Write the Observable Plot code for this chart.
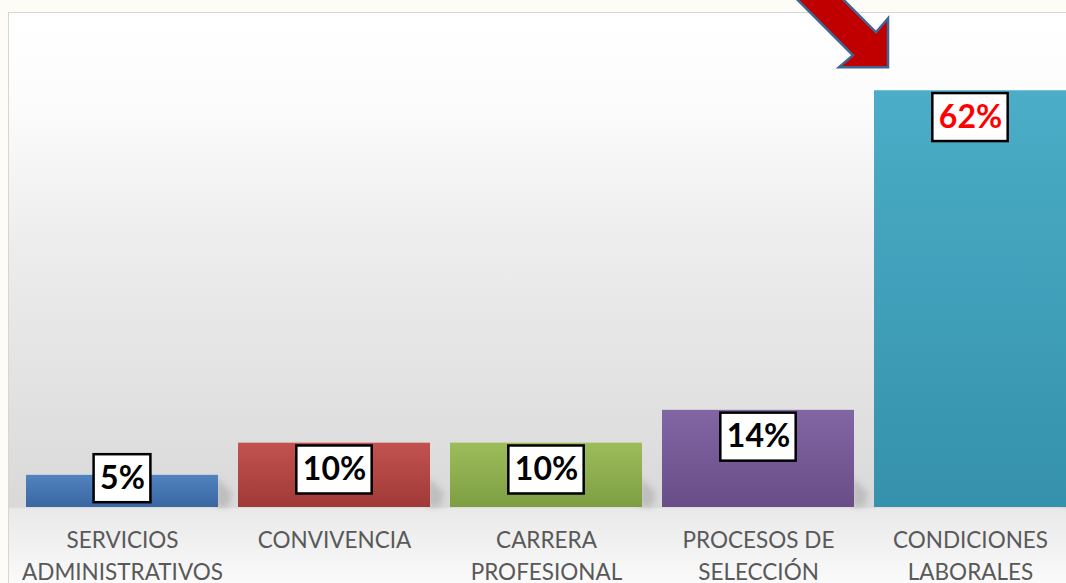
<!DOCTYPE html>
<html><head><meta charset="utf-8">
<script src="https://cdn.jsdelivr.net/npm/d3@7"></script>
<script src="https://cdn.jsdelivr.net/npm/@observablehq/plot@0.6"></script>
<style>
html,body{margin:0;padding:0;width:1066px;height:583px;overflow:hidden;background:#fefcf6;}
#panel{position:absolute;left:8px;top:12px;width:1100px;height:600px;border:1px solid #d6d6d6;
background:linear-gradient(to bottom,#ffffff 0px,#fcfcfc 90px,#ececec 240px,#d9d9d9 494px,#e9e9e9 496px,#f3f3f3 540px,#fbfbfb 571px);}
#chart{position:absolute;left:0;top:0;width:1080px;}
#chart svg{max-width:none !important;}
</style></head><body>
<div id="panel"></div><div id="chart"></div>
<script>
const categories = ["SERVICIOS ADMINISTRATIVOS","CONVIVENCIA","CARRERA PROFESIONAL","PROCESOS DE SELECCIÓN","CONDICIONES LABORALES"];
const tickLabels = ["SERVICIOS\nADMINISTRATIVOS","CONVIVENCIA","CARRERA\nPROFESIONAL","PROCESOS DE\nSELECCIÓN","CONDICIONES\nLABORALES"];
const values = [4.8, 9.6, 9.6, 14.5, 62.2];
const valueLabels = ["5%","10%","10%","14%","62%"];
const barTop = ["#5083c0","#c2524f","#9dbd5b","#8266a4","#4badc7"];
const barBottom = ["#3b67a1","#a03a37","#7d9d43","#684d88","#3591ac"];
const labelColors = ["#000000","#000000","#000000","#000000","#ff0000"];

const data = categories.map((c, i) => ({c, v: values[i], label: valueLabels[i], i}));
const W = 1080;
const labelY = d => Math.max(d.v - 4.0, 4.3);

const chart = Plot.plot({
  width: W, height: 583,
  marginLeft: 14.75, marginRight: W - 1077.25,
  marginTop: 38, marginBottom: 76,
  style: {background: "transparent", overflow: "visible", maxWidth: "none", fontFamily: "Lato, 'Noto Sans', sans-serif"},
  x: {domain: categories, paddingInner: 0.0965, paddingOuter: 0.048, axis: null, label: null},
  y: {domain: [0, 70], axis: null, label: null},
  color: {type: "identity"},
  marks: [
    Plot.barY(data, {x: "c", y: "v", fill: d => `url(#barGrad${d.i})`}),
    Plot.axisX({tickFormat: c => tickLabels[categories.indexOf(c)], tickSize: 0, tickPadding: 18, label: null,
      fontSize: 22.5, lineHeight: 1.42, color: "#595959"}),
    Plot.text(data, {x: "c", y: labelY, text: "label",
      fill: d => labelColors[d.i], fontSize: 32, fontWeight: "bold", lineAnchor: "middle"})
  ]
});
chart.style.maxWidth = "none";
document.getElementById("chart").append(chart);

const svg = d3.select(chart);
const defs = svg.insert("defs", ":first-child");
data.forEach(d => {
  const g = defs.append("linearGradient").attr("id", `barGrad${d.i}`).attr("x1", 0).attr("y1", 0).attr("x2", 0).attr("y2", 1);
  g.append("stop").attr("offset", "0%").attr("stop-color", barTop[d.i]);
  g.append("stop").attr("offset", "100%").attr("stop-color", barBottom[d.i]);
});
defs.append("filter").attr("id", "soft").attr("x", "-50%").attr("y", "-50%").attr("width", "200%").attr("height", "200%")
  .append("feGaussianBlur").attr("stdDeviation", 3);

const xs = chart.scale("x"), ys = chart.scale("y");
const bw = xs.bandwidth;
const base = ys.apply(0);

// faint perspective shadows at the lower right of each bar, placed under the bars
const firstBar = Array.from(chart.querySelectorAll("rect")).find(r => (r.getAttribute("fill") || "").includes("barGrad"));
const barsG = firstBar ? firstBar.parentNode : null;
const shadowG = d3.create("svg:g").attr("aria-label", "shadows").attr("filter", "url(#soft)");
data.forEach(d => {
  const x2 = xs.apply(d.c) + bw;
  const h = Math.min(base - ys.apply(d.v), 30);
  shadowG.append("path")
    .attr("d", `M${x2 - 2},${base}L${x2 - 2},${base - h}L${x2 + 14},${base - 14}L${x2 + 10},${base}Z`)
    .attr("fill", "#8a8a8a").attr("opacity", 0.35);
});
if (barsG) chart.insertBefore(shadowG.node(), barsG); else chart.appendChild(shadowG.node());

// boxes behind value labels
const texts = Array.from(chart.querySelectorAll("text")).filter(t => valueLabels.includes(t.textContent.trim()));
const boxLayer = svg.append("g").attr("aria-label", "label-boxes");
texts.forEach((t, k) => {
  const d = data[k];
  let w = 60;
  try { w = t.getBBox().width; } catch (e) {}
  if (!w) w = t.textContent.length * 20;
  w += 12;
  const cx = xs.apply(d.c) + bw / 2;
  const cy = ys.apply(labelY(d));
  const h = 48;
  boxLayer.append("rect")
    .attr("x", cx - w / 2).attr("y", cy - h / 2).attr("width", w).attr("height", h)
    .attr("fill", "#ffffff").attr("stroke", "#000000").attr("stroke-width", 2.5);
});
if (texts.length) chart.appendChild(texts[0].parentNode);

// red block arrow pointing at the largest bar
const last = data[data.length - 1];
const tx = xs.apply(last.c) + 14, ty = ys.apply(last.v) - 23;
const pts = [[tx, ty], [tx - 49, ty], [tx - 35, ty - 12], [tx - 135, ty - 112], [tx - 112, ty - 135], [tx - 12, ty - 35], [tx, ty - 49]];
svg.append("path").attr("d", "M" + pts.map(p => p.join(",")).join("L") + "Z")
  .attr("fill", "#c00000").attr("stroke", "#3f6590").attr("stroke-width", 2.5).attr("stroke-linejoin", "miter");
</script>
</body></html>
